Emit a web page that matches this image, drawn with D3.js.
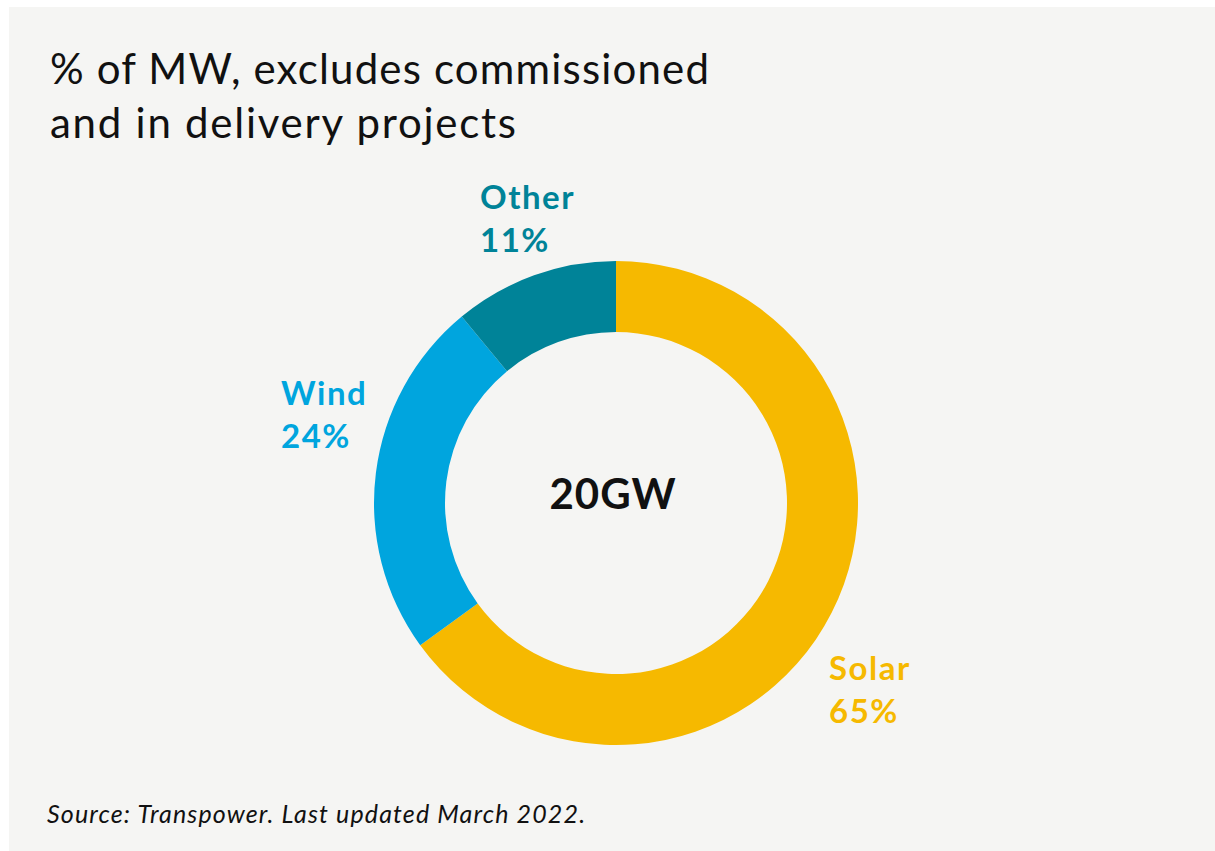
<!DOCTYPE html>
<html>
<head>
<meta charset="utf-8">
<script src="https://cdn.jsdelivr.net/npm/d3@7"></script>
<style>
  html, body { margin: 0; padding: 0; background: #ffffff; }
  svg { display: block; }
  text { font-family: Lato, "Open Sans", sans-serif; }
</style>
</head>
<body>
<svg id="chart" width="1215" height="851"></svg>
<script>
const categories = ["Solar", "Wind", "Other"];
const shares = [65, 24, 11];
const colors = ["#f6b900", "#00a5de", "#008398"];
const titleLines = ["% of MW, excludes commissioned", "and in delivery projects"];
const centerLabel = "20GW";
const sourceNote = "Source: Transpower. Last updated March 2022.";

const width = 1215;
const height = 851;
const cx = 616;
const cy = 503;
const outerR = 242;
const innerR = 171;

const svg = d3.select("#chart");

// panel background
svg.append("rect")
  .attr("x", 9)
  .attr("y", 7)
  .attr("width", width - 9)
  .attr("height", height - 7)
  .attr("fill", "#f5f5f3");

// title, stretched to the width of the original lettering
const titleWidths = [659, 466];
svg.append("g")
  .selectAll("text")
  .data(titleLines)
  .join("text")
  .attr("x", 50)
  .attr("y", (d, i) => 84 + i * 54)
  .attr("font-size", 42)
  .attr("textLength", (d, i) => titleWidths[i])
  .attr("lengthAdjust", "spacing")
  .attr("fill", "#111")
  .text((d) => d);

const data = categories.map((c, i) => ({ name: c, value: shares[i], color: colors[i] }));

const pie = d3.pie().value((d) => d.value).sort(null);
const arc = d3.arc().innerRadius(innerR).outerRadius(outerR);

const g = svg.append("g").attr("transform", `translate(${cx},${cy})`);

g.selectAll("path")
  .data(pie(data))
  .join("path")
  .attr("d", arc)
  .attr("fill", (d) => d.data.color);

g.append("text")
  .attr("x", -3)
  .attr("y", 6)
  .attr("text-anchor", "middle")
  .attr("font-size", 42)
  .attr("font-weight", 700)
  .attr("letter-spacing", 1)
  .attr("fill", "#111")
  .text(centerLabel);

// label anchors, relative to donut center
const labelPos = {
  Solar: { x: 213, y: 177 },
  Wind: { x: -335, y: -98 },
  Other: { x: -136, y: -294 },
};

const labels = g.append("g")
  .selectAll("text")
  .data(data)
  .join("text")
  .attr("x", (d) => labelPos[d.name].x)
  .attr("y", (d) => labelPos[d.name].y)
  .attr("font-size", 33)
  .attr("font-weight", 700)
  .attr("letter-spacing", 1.5)
  .attr("fill", (d) => d.color);

labels.append("tspan").text((d) => d.name);
labels.append("tspan")
  .attr("x", (d) => labelPos[d.name].x)
  .attr("dy", 43)
  .text((d) => d.value + "%");

svg.append("text")
  .attr("x", 47)
  .attr("y", 823)
  .attr("font-size", 25)
  .attr("font-style", "italic")
  .attr("textLength", 538)
  .attr("lengthAdjust", "spacing")
  .attr("fill", "#111")
  .text(sourceNote);
</script>
</body>
</html>
